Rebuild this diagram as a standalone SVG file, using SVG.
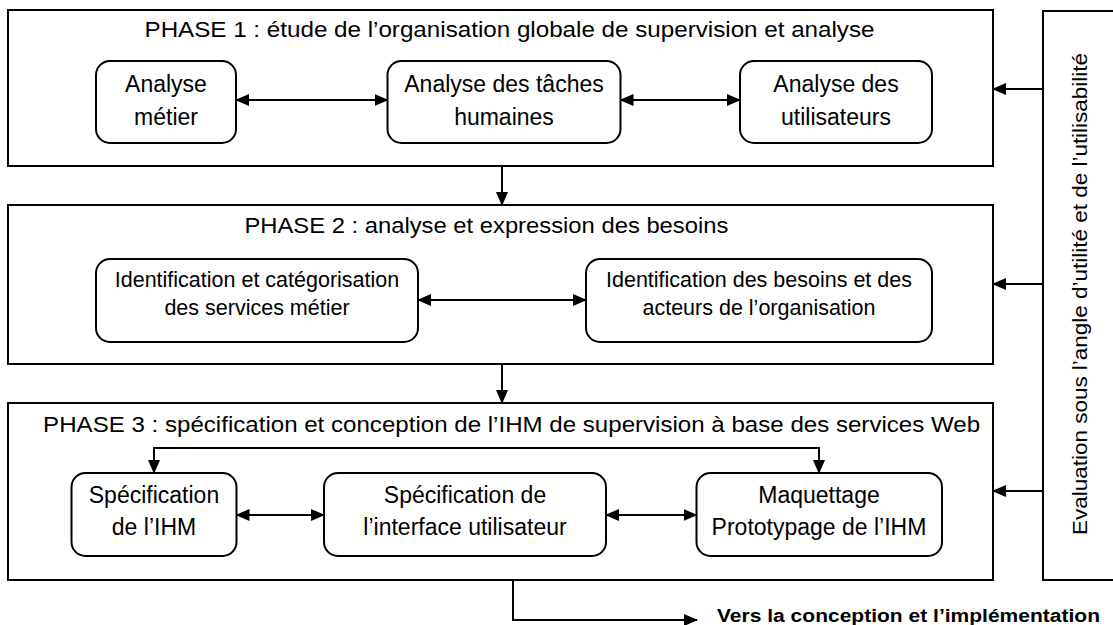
<svg xmlns="http://www.w3.org/2000/svg" width="1113" height="625" viewBox="0 0 1113 625">
<style>
.phase{fill:#fff;stroke:#000;stroke-width:2}
.node{fill:#fff;stroke:#000;stroke-width:2}
.t{font-family:"Liberation Sans",Arial,sans-serif;fill:#000;text-anchor:middle}
.title{font-size:22px}
.n1{font-size:23px}
.n2{font-size:21.5px}
.conn{fill:none;stroke:#000;stroke-width:2}
</style>
<defs>
<marker id="ah" viewBox="0 0 14 12" refX="13" refY="6" markerWidth="14" markerHeight="12" markerUnits="userSpaceOnUse" orient="auto-start-reverse">
<path d="M0,0 L14,6 L0,12 z" fill="#000"/>
</marker>
</defs>
<rect width="1113" height="625" fill="#fff"/>

<g id="phase1">
<rect class="phase" x="8" y="10" width="985" height="156"/>
<text class="t title" x="509.5" y="37" textLength="730" lengthAdjust="spacingAndGlyphs">PHASE 1 : étude de l’organisation globale de supervision et analyse</text>
</g>
<g id="analyse-metier">
<rect class="node" x="96" y="61" width="140" height="82" rx="14"/>
<text class="t n1" x="166" y="92">Analyse</text>
<text class="t n1" x="166" y="125">métier</text>
</g>
<g id="analyse-taches">
<rect class="node" x="387.5" y="61" width="233" height="82" rx="14"/>
<text class="t n1" x="504" y="92">Analyse des tâches</text>
<text class="t n1" x="504" y="125">humaines</text>
</g>
<g id="analyse-utilisateurs">
<rect class="node" x="740" y="61" width="192" height="82" rx="14"/>
<text class="t n1" x="836" y="92">Analyse des</text>
<text class="t n1" x="836" y="125">utilisateurs</text>
</g>

<g id="phase2">
<rect class="phase" x="8" y="205" width="985" height="159"/>
<text class="t title" x="486.4" y="233" textLength="484" lengthAdjust="spacingAndGlyphs">PHASE 2 : analyse et expression des besoins</text>
</g>
<g id="identification-services">
<rect class="node" x="96" y="259" width="322" height="83" rx="14"/>
<text class="t n2" x="257" y="287">Identification et catégorisation</text>
<text class="t n2" x="257" y="315">des services métier</text>
</g>
<g id="identification-besoins">
<rect class="node" x="586" y="259" width="346" height="83" rx="14"/>
<text class="t n2" x="759" y="287">Identification des besoins et des</text>
<text class="t n2" x="759" y="315">acteurs de l’organisation</text>
</g>

<g id="phase3">
<rect class="phase" x="8" y="403" width="985" height="177"/>
<text class="t title" x="511.6" y="432" textLength="937" lengthAdjust="spacingAndGlyphs">PHASE 3 : spécification et conception de l’IHM de supervision à base des services Web</text>
</g>
<g id="specification-ihm">
<rect class="node" x="71.5" y="473" width="165" height="83" rx="14"/>
<text class="t n1" x="154" y="503">Spécification</text>
<text class="t n1" x="154" y="535">de l’IHM</text>
</g>
<g id="specification-interface">
<rect class="node" x="324" y="473" width="282" height="83" rx="14"/>
<text class="t n1" x="465" y="503">Spécification de</text>
<text class="t n1" x="465" y="535">l’interface utilisateur</text>
</g>
<g id="maquettage">
<rect class="node" x="696.5" y="473" width="245.5" height="83" rx="14"/>
<text class="t n1" x="819" y="503">Maquettage</text>
<text class="t n1" x="819" y="535">Prototypage de l’IHM</text>
</g>

<g id="evaluation">
<rect class="phase" x="1043" y="11" width="80" height="569"/>
<text class="t" style="font-size:20px" transform="translate(1087,294) rotate(-90)" x="0" y="0" textLength="482" lengthAdjust="spacingAndGlyphs">Evaluation sous l’angle d’utilité et de l’utilisabilité</text>
</g>

<g id="sortie">
<text class="t" style="font-size:18px;font-weight:bold;text-anchor:start" x="717" y="622" textLength="383" lengthAdjust="spacingAndGlyphs">Vers la conception et l’implémentation</text>
</g>

<g id="connectors">
<line class="conn" x1="236" y1="100" x2="387.5" y2="100" marker-start="url(#ah)" marker-end="url(#ah)"/>
<line class="conn" x1="620.5" y1="100" x2="740" y2="100" marker-start="url(#ah)" marker-end="url(#ah)"/>
<line class="conn" x1="418" y1="300" x2="586" y2="300" marker-start="url(#ah)" marker-end="url(#ah)"/>
<line class="conn" x1="236.5" y1="515" x2="324" y2="515" marker-start="url(#ah)" marker-end="url(#ah)"/>
<line class="conn" x1="606" y1="515" x2="696.5" y2="515" marker-start="url(#ah)" marker-end="url(#ah)"/>
<line class="conn" x1="502" y1="166" x2="502" y2="205" marker-end="url(#ah)"/>
<line class="conn" x1="502" y1="364" x2="502" y2="403" marker-end="url(#ah)"/>
<polyline class="conn" points="154,473 154,448 819,448 819,473" marker-start="url(#ah)" marker-end="url(#ah)"/>
<line class="conn" x1="1043" y1="89" x2="993" y2="89" marker-end="url(#ah)"/>
<line class="conn" x1="1043" y1="284" x2="993" y2="284" marker-end="url(#ah)"/>
<line class="conn" x1="1043" y1="491" x2="993" y2="491" marker-end="url(#ah)"/>
<polyline class="conn" points="513,580 513,620 697,620" marker-end="url(#ah)"/>
</g>
</svg>
